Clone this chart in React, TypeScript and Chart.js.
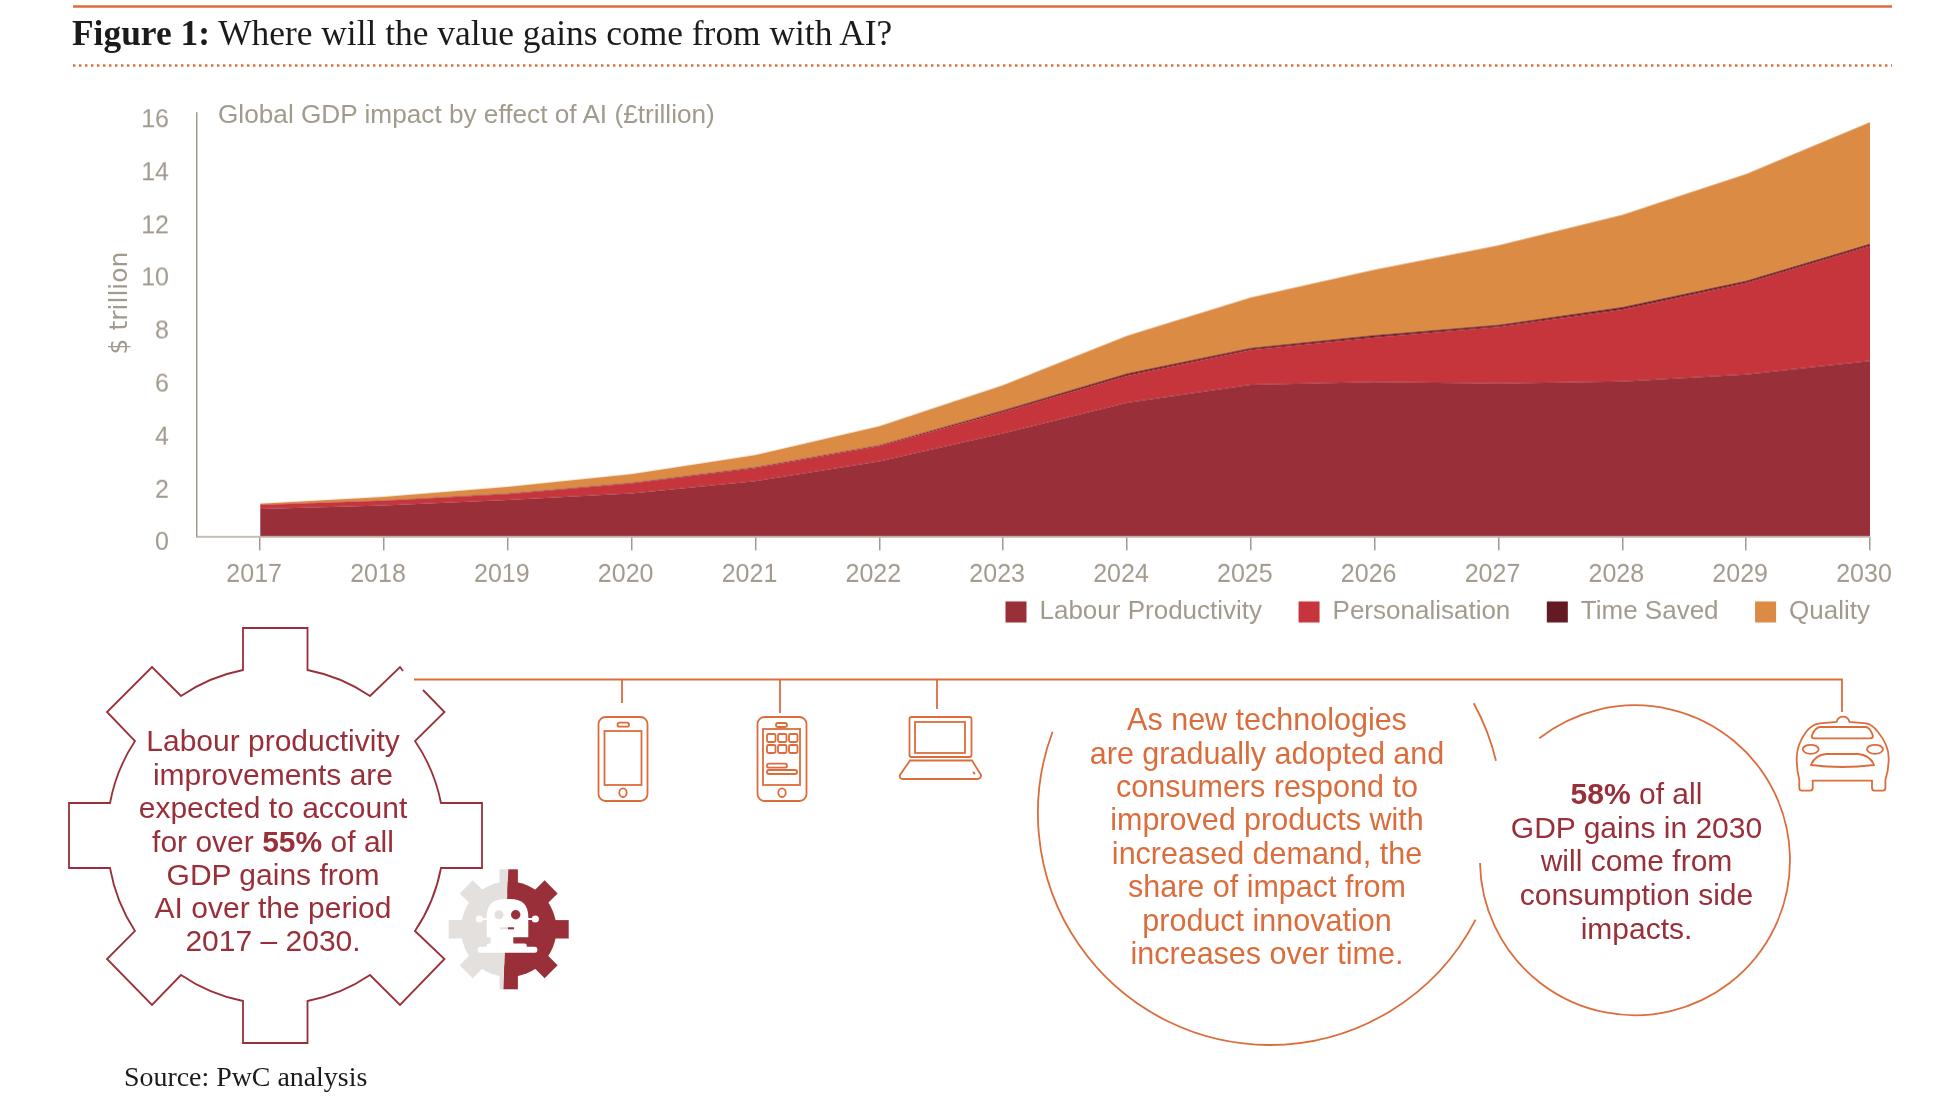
import React, { useEffect, useRef } from "react";
import { Chart, registerables } from "chart.js";

Chart.register(...registerables);

const years = [2017, 2018, 2019, 2020, 2021, 2022, 2023, 2024, 2025, 2026, 2027, 2028, 2029, 2030];
const labourProductivity = [1.04, 1.17, 1.38, 1.63, 2.09, 2.84, 3.9, 5.06, 5.74, 5.84, 5.78, 5.86, 6.13, 6.64];
const personalisation = [0.15, 0.18, 0.22, 0.38, 0.49, 0.58, 0.81, 1.02, 1.31, 1.69, 2.14, 2.72, 3.45, 4.34];
const timeSaved = [0.01, 0.01, 0.02, 0.02, 0.03, 0.03, 0.05, 0.07, 0.07, 0.07, 0.07, 0.08, 0.08, 0.08];
const quality = [0.04, 0.14, 0.25, 0.33, 0.47, 0.72, 0.96, 1.43, 1.91, 2.48, 3.01, 3.5, 4.04, 4.6];

const GREY = "#a39a8e";
const RED = "#992f38";
const ORANGE = "#db6d3c";
const SANS = '"Liberation Sans", Arial, sans-serif';

const gearLines: React.ReactNode[] = [
  "Labour productivity",
  "improvements are",
  "expected to account",
  <>for over <b>55%</b> of all</>,
  "GDP gains from",
  "AI over the period",
  "2017 – 2030.",
];
const gearLineY = [741, 774.5, 808, 841.5, 874.5, 907.5, 941];
const adoptLines = [
  "As new technologies",
  "are gradually adopted and",
  "consumers respond to",
  "improved products with",
  "increased demand, the",
  "share of impact from",
  "product innovation",
  "increases over time.",
];
const adoptLineY = [719, 752.5, 786, 819, 852.5, 886, 919.5, 953];
const gainLines: React.ReactNode[] = [
  <><b>58%</b> of all</>,
  "GDP gains in 2030",
  "will come from",
  "consumption side",
  "impacts.",
];
const gainLineY = [793.5, 827.5, 861, 895, 928.5];

function Line({ x, y, color, children, size = 30 }: any) {
  return (
    <div
      style={{
        position: "absolute",
        left: x,
        top: y,
        transform: "translate(-50%,-50%)",
        whiteSpace: "nowrap",
        font: `${size}px ${SANS}`,
        color,
      }}
    >
      {children}
    </div>
  );
}

function Art() {
  const o = { fill: "none", stroke: ORANGE, strokeWidth: 1.8 };
  const gear =
    "M403 671L400 667L370 696A168 168 0 0 0 307.5 670V628H243V670A168 168 0 0 0 181 696L152 667L107 712L135 741A168 168 0 0 0 110 803H69V868H110A168 168 0 0 0 135 931L107 959L152 1005L181 975A168 168 0 0 0 243 1001V1043H307.5V1001A168 168 0 0 0 370 975L400 1005L444.5 959L415 931A168 168 0 0 0 441 868H482V803H441A168 168 0 0 0 415 741L444.5 712L423 690";
  const teeth = [0, 45, 90, 135, 180, 225, 270, 315];
  const smallGear = (
    <>
      <circle cx={508.7} cy={929.3} r={47.7} />
      {teeth.map((a) => (
        <rect key={a} x={499.5} y={869.3} width={18.4} height={24} transform={`rotate(${a} 508.7 929.3)`} />
      ))}
    </>
  );
  return (
    <svg width={1944} height={1110} style={{ position: "absolute", left: 0, top: 0 }}>
      <defs>
        <clipPath id="lh"><path d="M440 860H508.7L503 1000H440Z" /></clipPath>
        <clipPath id="rh"><path d="M508.7 860H580V1000H503Z" /></clipPath>
      </defs>
      <line x1={73} x2={1892} y1={6.5} y2={6.5} stroke={ORANGE} strokeWidth={2.4} />
      <line x1={73} x2={1892} y1={65.5} y2={65.5} stroke={ORANGE} strokeWidth={2.6} strokeDasharray="2.4 3.6" />
      <path d={gear} fill="none" stroke={RED} strokeWidth={1.8} />
      <g clipPath="url(#lh)" fill="#e3e0dd">{smallGear}</g>
      <g clipPath="url(#rh)" fill={RED}>{smallGear}</g>
      <g fill="#fff">
        <path d="M486.7 937.3V917Q486.7 899 504.7 899H510.3Q528.3 899 528.3 917V937.3Z" />
        <circle cx={479.3} cy={919} r={3.6} />
        <circle cx={535.3} cy={919} r={3.6} />
        <rect x={479} y={918} width={10} height={2} />
        <rect x={526} y={918} width={10} height={2} />
        <rect x={490.7} y={937} width={22.6} height={10} />
        <rect x={486.7} y={943.5} width={40} height={5} rx={2} />
        <rect x={477.7} y={946.7} width={59.6} height={6} rx={2.5} />
      </g>
      <circle cx={499} cy={914.7} r={4.5} fill="#e3e0dd" />
      <circle cx={515.7} cy={914.7} r={4.7} fill={RED} />
      <rect x={500} y={927.3} width={8} height={2} fill="#e3e0dd" />
      <rect x={508} y={927.3} width={6} height={2} fill={RED} />
      <path d="M414 679.5H1842V712M622 680V703M780 680V713M937 680V709" {...o} />
      <rect x={598.5} y={717} width={49} height={84} rx={7} {...o} />
      <rect x={604.5} y={731} width={37} height={54} {...o} />
      <rect x={617.5} y={722.7} width={11.5} height={4} rx={2} {...o} />
      <ellipse cx={623} cy={792.7} rx={3.7} ry={4.3} {...o} />
      <rect x={757.5} y={717} width={49} height={84} rx={7} {...o} />
      <rect x={763} y={729} width={37} height={56} {...o} />
      <rect x={776} y={723} width={11} height={4} rx={2} {...o} />
      <ellipse cx={782} cy={792.7} rx={3.7} ry={4.3} {...o} />
      {[767, 778, 789].map((x) =>
        [734, 745].map((y) => <rect key={`${x}-${y}`} x={x} y={y} width={8.5} height={8} rx={1.5} {...o} />)
      )}
      <rect x={767} y={763.7} width={20} height={4} rx={2} {...o} />
      <rect x={767} y={770} width={30} height={4} rx={2} {...o} />
      <rect x={909.5} y={717} width={62} height={40} rx={2} {...o} />
      <rect x={915} y={722} width={50} height={31} {...o} />
      <path d="M910 760.5H972L981 775Q981 779 977 779H903Q899 779 900 775ZM973 772L975 774" {...o} />
      <path d="M1473.7 703.3A232 232 0 0 1 1496 760.7" {...o} />
      <path d="M1052.6 731.7A232 232 0 0 0 1269.6 1045A232 232 0 0 0 1475.6 919.6" {...o} />
      <path d="M1539.3 738.3A155 155 0 1 1 1480 863" {...o} />
      <path
        d="M1799.3 780V788Q1799.3 790.7 1802 790.7H1810Q1812.7 790.7 1812.7 788V780.7H1872V788Q1872 790.7 1874.7 790.7H1882.7Q1885.4 790.7 1885.4 788V780Q1888.7 770 1888.7 758Q1888.7 745 1878 732Q1872 724 1866 723.3L1849.5 722Q1848 716.7 1843 716.7Q1838 716.7 1836.5 722L1820 723.3Q1812 724 1806 732Q1796.7 745 1796.7 758Q1796.7 770 1799.3 780Z"
        {...o}
      />
      <path d="M1811.7 736Q1815 727.5 1820 727H1866Q1870 727.5 1873 736Q1873 738.3 1870 738.3H1814Q1811.7 738.3 1811.7 736Z" {...o} />
      <path d="M1811 765Q1815 755 1826 754H1858Q1870 755 1874 765Q1842 769 1811 765Z" {...o} />
      <ellipse cx={1810.7} cy={749.3} rx={8} ry={4.5} {...o} />
      <ellipse cx={1875} cy={749.3} rx={8} ry={4.5} {...o} />
    </svg>
  );
}

const legendPlacement = {
  id: "legendPlacement",
  afterLayout(chart: any) {
    chart.legend.top -= 28;
    chart.legend.bottom -= 28;
    chart.legend.right += 36.5;
  },
};

export default function App() {
  const ref = useRef<HTMLCanvasElement>(null);
  useEffect(() => {
    const toPoints = (vals: number[]) => vals.map((y, i) => ({ x: years[i], y }));
    const series = (label: string, vals: number[], color: string, fill: string) => ({
      label,
      data: toPoints(vals),
      backgroundColor: color,
      borderColor: color,
      borderWidth: 0,
      pointRadius: 0,
      tension: 0,
      fill,
    });
    const chart = new Chart(ref.current!, {
      type: "line",
      plugins: [legendPlacement],
      data: {
        datasets: [
          series("Labour Productivity", labourProductivity, "#992f38", "origin"),
          series("Personalisation", personalisation, "#c6353c", "-1"),
          series("Time Saved", timeSaved, "#631a24", "-1"),
          series("Quality", quality, "#db8b44", "-1"),
        ],
      },
      options: {
        animation: false,
        responsive: false,
        layout: { padding: { left: 120, right: 74, top: 113, bottom: 0 } },
        plugins: {
          tooltip: { enabled: false },
          title: { display: false },
          legend: {
            position: "bottom",
            align: "end",
            labels: {
              boxWidth: 21,
              boxHeight: 21,
              padding: 36.5,
              color: GREY,
              font: { family: SANS, size: 26 },
            },
          },
        },
        scales: {
          x: {
            type: "linear",
            min: 2016.49,
            max: 2030,
            afterFit: (s: any) => {
              s.height = 54;
            },
            border: { color: "#c4bdb4", width: 2 },
            grid: { drawOnChartArea: false, drawTicks: true, tickLength: 14, color: GREY, lineWidth: 1.5 },
            ticks: {
              stepSize: 1,
              includeBounds: false,
              autoSkip: false,
              maxRotation: 0,
              labelOffset: -6,
              padding: 10,
              color: GREY,
              font: { family: SANS, size: 25 },
              callback: (v: any) => String(v),
            },
          },
          y: {
            stacked: true,
            min: 0,
            max: 16,
            afterFit: (s: any) => {
              s.width = 77;
            },
            border: { color: GREY, width: 1.5 },
            grid: { display: false },
            ticks: {
              stepSize: 2,
              padding: 20,
              labelOffset: 7,
              color: GREY,
              font: { family: SANS, size: 25 },
            },
          },
        },
      },
    } as any);
    return () => chart.destroy();
  }, []);

  return (
    <div style={{ position: "fixed", left: 0, top: 0, width: 1944, height: 1110, background: "#fff", overflow: "hidden" }}>
      <canvas ref={ref} width={1944} height={662.5} style={{ position: "absolute", left: 0, top: 0, width: 1944, height: 662.5 }} />
      <Art />
      <div style={{ position: "absolute", left: 72, top: 12, whiteSpace: "nowrap", font: '35.4px "Liberation Serif", serif', color: "#1b1b1b" }}>
        <b>Figure 1:</b> Where will the value gains come from with AI?
      </div>
      <div style={{ position: "absolute", left: 218, top: 113.5, transform: "translateY(-50%)", whiteSpace: "nowrap", font: `26.2px ${SANS}`, color: GREY }}>
        Global GDP impact by effect of AI (£trillion)
      </div>
      <div style={{ position: "absolute", left: 118, top: 303, transform: "translate(-50%,-50%) rotate(-90deg)", whiteSpace: "nowrap", font: '25px "DejaVu Sans", sans-serif', color: GREY }}>
        $ trillion
      </div>
      {gearLines.map((t, i) => <Line key={i} x={273} y={gearLineY[i]} color={RED}>{t}</Line>)}
      {adoptLines.map((t, i) => <Line key={i} x={1267} y={adoptLineY[i]} color={ORANGE} size={30.5}>{t}</Line>)}
      {gainLines.map((t, i) => <Line key={i} x={1636.5} y={gainLineY[i]} color={RED}>{t}</Line>)}
      <div style={{ position: "absolute", left: 124, top: 1077, transform: "translateY(-50%)", whiteSpace: "nowrap", font: '27.9px "Liberation Serif", serif', color: "#1b1b1b" }}>
        Source: PwC analysis
      </div>
    </div>
  );
}
